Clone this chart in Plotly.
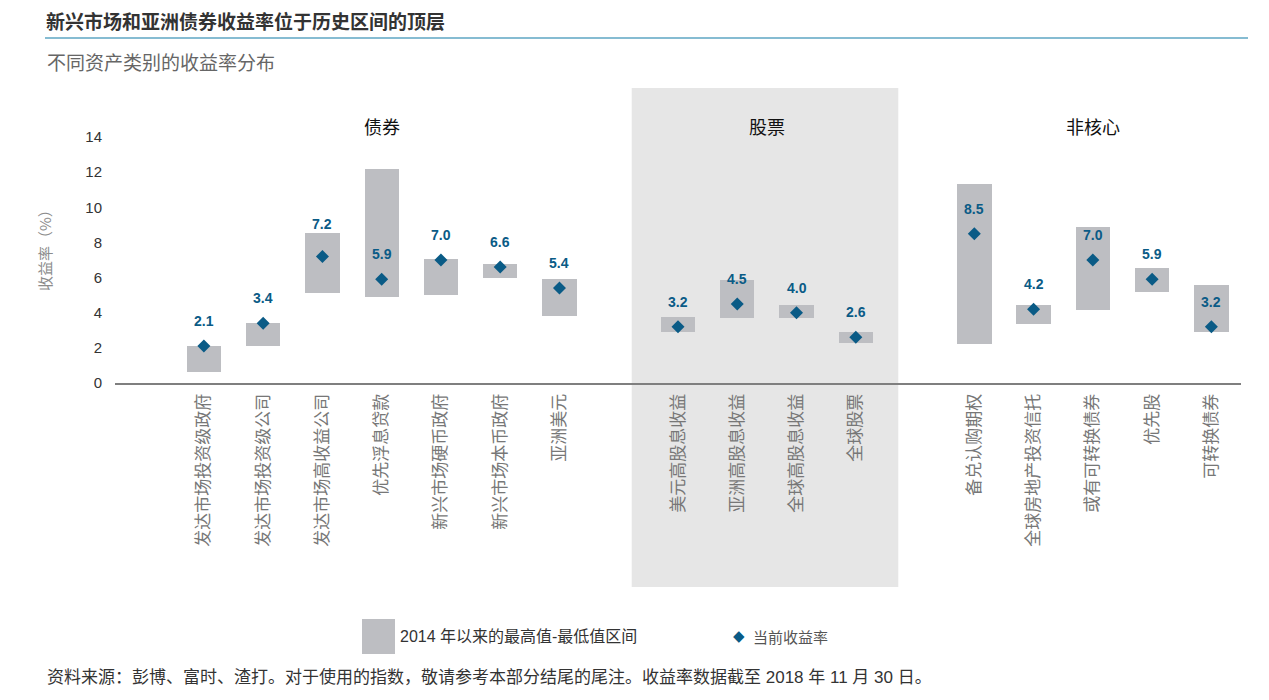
import plotly.graph_objects as go

# ---------------- data ----------------
bond_names = ["发达市场投资级政府", "发达市场投资级公司", "发达市场高收益公司", "优先浮息贷款",
              "新兴市场硬币政府", "新兴市场本币政府", "亚洲美元"]
bond_low = [0.6, 2.1, 5.1, 4.9, 5.0, 6.0, 3.8]
bond_high = [2.1, 3.4, 8.55, 12.2, 7.05, 6.8, 5.9]
bond_current = [2.1, 3.4, 7.2, 5.9, 7.0, 6.6, 5.4]

equity_names = ["美元高股息收益", "亚洲高股息收益", "全球高股息收益", "全球股票"]
equity_low = [2.9, 3.7, 3.7, 2.3]
equity_high = [3.75, 5.85, 4.45, 2.9]
equity_current = [3.2, 4.5, 4.0, 2.6]

noncore_names = ["备兑认购期权", "全球房地产投资信托", "或有可转换债券", "优先股", "可转换债券"]
noncore_low = [2.2, 3.35, 4.15, 5.2, 2.9]
noncore_high = [11.3, 4.45, 8.85, 6.55, 5.6]
noncore_current = [8.5, 4.2, 7.0, 5.9, 3.2]

group_titles = ["债券", "股票", "非核心"]
y_ticks = [0, 2, 4, 6, 8, 10, 12, 14]

title = "新兴市场和亚洲债券收益率位于历史区间的顶层"
subtitle = "不同资产类别的收益率分布"
y_title = "收益率（%）"
legend_range = "2014 年以来的最高值-最低值区间"
legend_current = "当前收益率"
source = "资料来源：彭博、富时、渣打。对于使用的指数，敬请参考本部分结尾的尾注。收益率数据截至 2018 年 11 月 30 日。"

# ---------------- build category order with spacer slots ----------------
spacer1, spacer2 = " ", "  "
names = bond_names + [spacer1] + equity_names + [spacer2] + noncore_names
lows = bond_low + [None] + equity_low + [None] + noncore_low
highs = bond_high + [None] + equity_high + [None] + noncore_high
currents = bond_current + [None] + equity_current + [None] + noncore_current
spans = [(h - l) if h is not None else None for h, l in zip(highs, lows)]

BAR = "#bdbec2"
BLUE = "#0a5b86"
OFF = 8  # page body margin
W, H = 1269 - 2 * OFF, 700 - 2 * OFF
PLOT_L, PLOT_R, PLOT_T, PLOT_B = 115, 1241, 137, 383  # in screenshot pixels
L, T = PLOT_L - OFF, PLOT_T - OFF
R, B = W - (PLOT_R - OFF), H - (PLOT_B - OFF)
PW, PH = PLOT_R - PLOT_L, PLOT_B - PLOT_T


def px(xp):
    return (xp - PLOT_L) / PW


def py(yp):
    return (PLOT_B - yp) / PH


fig = go.Figure()
fig.add_trace(go.Bar(x=names, y=spans, base=lows, marker=dict(color=BAR, line=dict(width=0)),
                     width=0.58, showlegend=False, hoverinfo="skip"))
fig.add_trace(go.Scatter(x=names, y=currents, mode="markers",
                         marker=dict(symbol="diamond", size=10, color=BLUE, line=dict(width=0)),
                         showlegend=False, cliponaxis=False))

# value labels
for n, c in zip(names, currents):
    if c is None:
        continue
    shift = 32 if (n == "发达市场高收益公司") else 25
    fig.add_annotation(x=n, y=c, text=f"{c:.1f}", showarrow=False, yshift=shift,
                       yanchor="middle", font=dict(family="Liberation Sans, Arial", size=14, color=BLUE,
                                                   weight="bold"))

# group titles (centered over each group)
n_b, n_e, n_n = len(bond_names), len(equity_names), len(noncore_names)
centers = [(n_b - 1) / 2, n_b + 1 + (n_e - 1) / 2, n_b + n_e + 2 + (n_n - 1) / 2]
for gt, cx in zip(group_titles, centers):
    fig.add_annotation(x=cx, xref="x", y=py(126), yref="paper", text=gt, showarrow=False,
                       xanchor="center", yanchor="middle",
                       font=dict(family="Noto Sans CJK SC", size=18, color="#111"))

# equity panel background
fig.add_shape(type="rect", xref="paper", yref="paper", x0=px(631.7), x1=px(898.3), y0=py(587), y1=py(88),
              fillcolor="#e6e6e6", line=dict(width=0), layer="below")

# header
fig.add_annotation(xref="paper", yref="paper", x=px(45), y=py(20), xanchor="left", yanchor="middle",
                   text=f"<b>{title}</b>", showarrow=False, borderpad=0,
                   font=dict(family="Noto Sans CJK SC", size=19, color="#333"))
fig.add_shape(type="line", xref="paper", yref="paper", x0=px(45), x1=px(1248), y0=py(38), y1=py(38),
              line=dict(color="#5ea6c3", width=1.5))
fig.add_annotation(xref="paper", yref="paper", x=px(45), y=py(61), xanchor="left", yanchor="middle",
                   text=subtitle, showarrow=False,
                   font=dict(family="Noto Sans CJK SC", size=19, color="#666"))

# y-axis title
fig.add_annotation(xref="paper", yref="paper", x=px(44), y=py(247), text=y_title, textangle=-90,
                   xanchor="center", yanchor="middle",
                   showarrow=False, font=dict(family="Noto Sans CJK SC", size=15, color="#8c8c8c"))

# legend
fig.add_shape(type="rect", xref="paper", yref="paper", x0=px(362), x1=px(395), y0=py(654), y1=py(619),
              fillcolor=BAR, line=dict(width=0))
fig.add_annotation(xref="paper", yref="paper", x=px(398), y=py(636), xanchor="left", yanchor="middle",
                   text=legend_range, showarrow=False,
                   font=dict(family="Liberation Sans, Noto Sans CJK SC", size=16, color="#333"))
fig.add_annotation(xref="paper", yref="paper", x=px(739), y=py(636), xanchor="center", yanchor="middle",
                   text="◆", showarrow=False, font=dict(family="DejaVu Sans", size=15, color=BLUE))
fig.add_annotation(xref="paper", yref="paper", x=px(751), y=py(636), xanchor="left", yanchor="middle",
                   text=legend_current, showarrow=False,
                   font=dict(family="Noto Sans CJK SC", size=15, color="#555"))

# source
fig.add_annotation(xref="paper", yref="paper", x=px(45), y=py(677), xanchor="left", yanchor="middle",
                   text=source, showarrow=False,
                   font=dict(family="Liberation Sans, Noto Sans CJK SC", size=17, color="#333"))

fig.update_layout(
    width=W, height=H, margin=dict(l=L, r=R, t=T, b=B),
    paper_bgcolor="white", plot_bgcolor="rgba(0,0,0,0)",
    bargap=0, showlegend=False,
    xaxis=dict(type="category", categoryorder="array", categoryarray=names,
               range=[-1.5, len(names) - 0.5], showgrid=False, zeroline=False,
               showline=True, linecolor="#7f7f7f", linewidth=2, ticks="", tickangle=-90,
               ticklabelstandoff=2,
               tickfont=dict(family="Noto Sans CJK SC", size=17, color="#777")),
    yaxis=dict(range=[0, 14], tickvals=y_ticks, showgrid=False, zeroline=False, showline=False,
               ticks="", ticklabelstandoff=12,
               tickfont=dict(family="Liberation Sans, Arial", size=15, color="#333")),
)

fig.write_html("out.html")
